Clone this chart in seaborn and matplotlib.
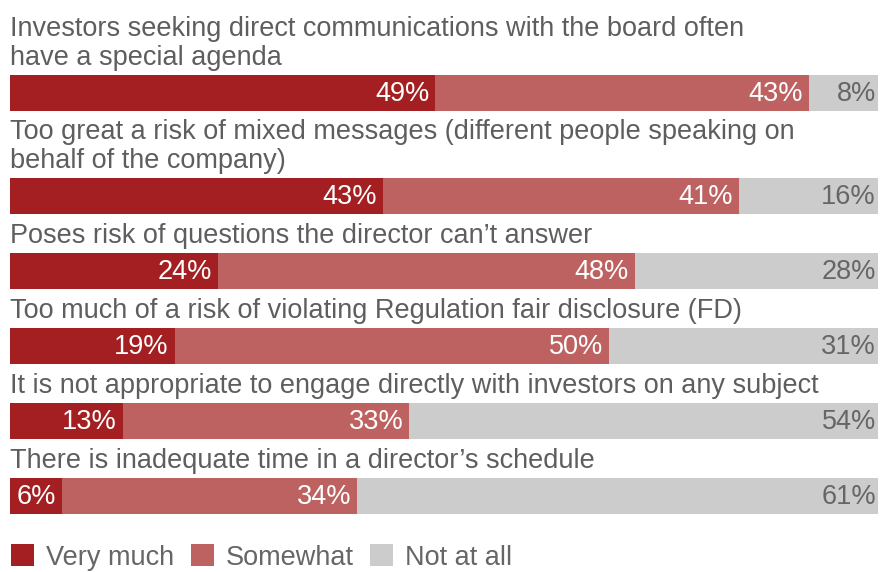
import numpy as np
import pandas as pd
import matplotlib
matplotlib.use('Agg')
import matplotlib.pyplot as plt
from matplotlib.patches import Patch
import seaborn as sns


# chart values
reasons = [
    'Investors seeking direct communications with the board often\nhave a special agenda',
    'Too great a risk of mixed messages (different people speaking on\nbehalf of the company)',
    'Poses risk of questions the director can\u2019t answer',
    'Too much of a risk of violating Regulation fair disclosure (FD)',
    'It is not appropriate to engage directly with investors on any subject',
    'There is inadequate time in a director\u2019s schedule',
]
very_much = [49, 43, 24, 19, 13, 6]
somewhat = [43, 41, 48, 50, 33, 34]
not_at_all = [8, 16, 28, 31, 54, 61]
series_names = ['Very much', 'Somewhat', 'Not at all']

colors = ['#a31f22', '#bd6161', '#cccccc']
label_color = '#5e5e5e'

sns.set_theme(style='white')
plt.rcParams['font.family'] = ['Liberation Sans', 'DejaVu Sans']

W, H = 881, 572
fig = plt.figure(figsize=(W / 100, H / 100), dpi=100)
ax = fig.add_axes([0, 0, 1, 1])

# vertical layout in pixel units (y grows downward)
bar_h, line_h, gap = 36, 28, 11
lines = [r.count('\n') + 1 for r in reasons]
tops = []
y = 19
for n in lines:
    y += n * line_h
    tops.append(y)
    y += bar_h + gap
centers = np.array(tops) + bar_h / 2

cum_very = np.array(very_much)
cum_some = cum_very + np.array(somewhat)
# rows are whole answers: the grey part fills the bar up to 100
cum_total = np.minimum(cum_some + np.array(not_at_all), 100)

df = pd.DataFrame({'pos': centers, 'very': cum_very,
                   'some': cum_some, 'total': cum_total})
width = bar_h / np.diff(centers).min()

for col, c in zip(['total', 'some', 'very'], colors[::-1]):
    sns.barplot(data=df, x=col, y='pos', orient='y', native_scale=True,
                color=c, saturation=1, width=width, errorbar=None,
                linewidth=0, ax=ax)

fs = 19.5
for i, r in enumerate(reasons):
    ax.text(0, tops[i] - 4, r, ha='left', va='bottom', fontsize=fs,
            color=label_color, linespacing=1.15)
    ax.text(cum_very[i] - 0.7, centers[i] + 1, f'{very_much[i]}%',
            ha='right', va='center', fontsize=fs, color='white')
    ax.text(cum_some[i] - 0.7, centers[i] + 1, f'{somewhat[i]}%',
            ha='right', va='center', fontsize=fs, color='white')
    ax.text(cum_total[i] - 0.25, centers[i] + 1, f'{not_at_all[i]}%',
            ha='right', va='center', fontsize=fs, color='#666666')

ax.set_xlim(-10 / 868 * 100, (W - 10) / 868 * 100)
ax.set_ylim(H, 0)
ax.axis('off')

handles = [Patch(facecolor=c, edgecolor='none') for c in colors]
leg = fig.legend(handles, series_names, loc='lower left', ncol=3,
                 bbox_to_anchor=(-5 / W, -0.026), frameon=False, fontsize=fs,
                 handlelength=0.85, handleheight=0.85, handletextpad=0.45,
                 columnspacing=0.6, borderaxespad=0.2)
for t in leg.get_texts():
    t.set_color('#666666')

fig.savefig('out.png', dpi=100)
